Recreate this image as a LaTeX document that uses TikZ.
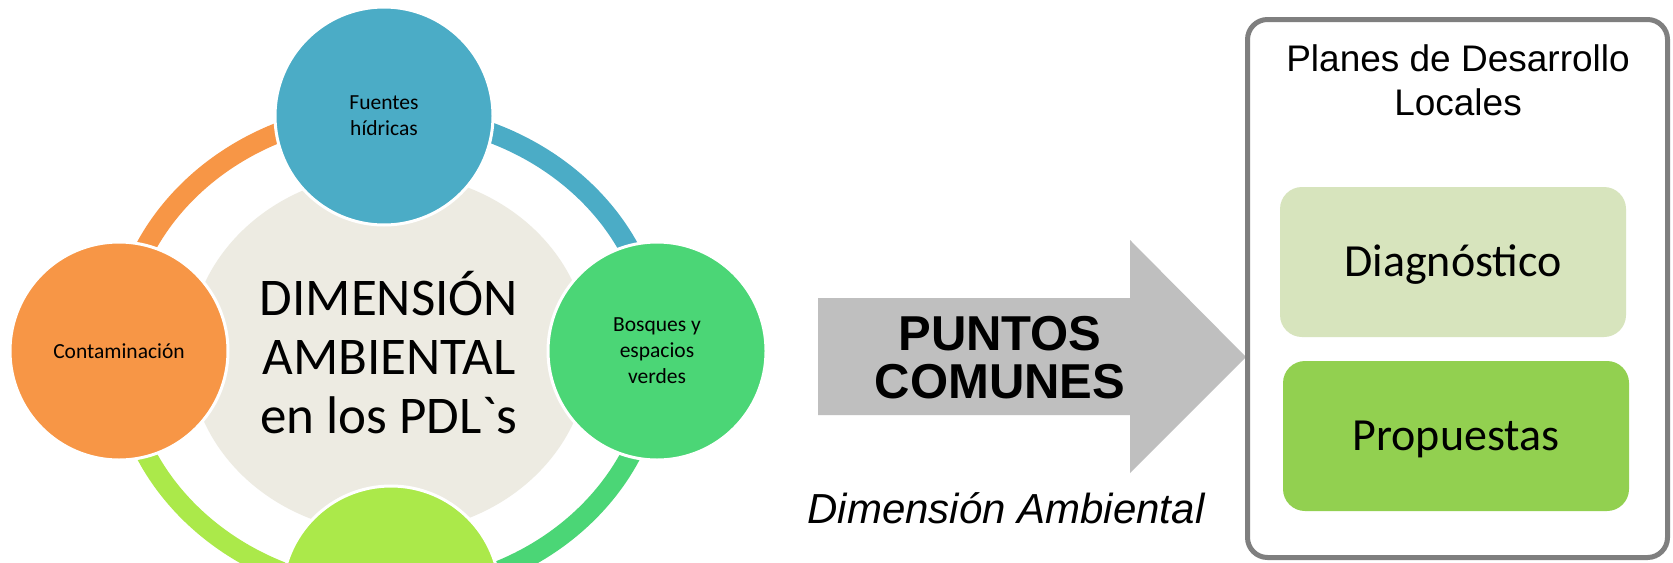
\documentclass[tikz,border=0pt]{standalone}
\usepackage{fontspec}
\newfontfamily\calibri{Carlito}
\newfontfamily\arialfont{Liberation Sans}
\usetikzlibrary{shapes.geometric}
\definecolor{cblue}{HTML}{4BACC6}
\definecolor{corange}{HTML}{F79646}
\definecolor{cgreen}{HTML}{4BD676}
\definecolor{clgreen}{HTML}{ABE94A}
\definecolor{ccenter}{HTML}{EDEBE2}
\definecolor{carrow}{HTML}{BFBFBF}
\definecolor{cborder}{HTML}{7F7F7F}
\definecolor{cdiag}{HTML}{D7E4BD}
\definecolor{cprop}{HTML}{92D050}
\begin{document}
\begin{tikzpicture}[x=0.5pt,y=-0.5pt,font=\calibri,
  bubble/.style={circle, draw=white, line width=1.5pt, minimum size=109pt, inner sep=0pt, align=center, font=\calibri\fontsize{10.75}{13}\selectfont},
  ringarc/.style={line width=10pt},
  greenbox/.style={rounded corners=11pt, minimum width=173pt, minimum height=75pt, inner sep=0pt, font=\calibri\fontsize{23}{27}\selectfont, text height=14.8pt, text depth=0pt},
]
\path[use as bounding box, clip] (0,0) rectangle (1673,562);
\fill[white] (0,0) rectangle (1673,562);

% ring positions
\coordinate (pT) at (386,114);
\coordinate (pL) at (119,351);
\coordinate (pR) at (657,351);
\coordinate (pB) at (390,592);

% ring arcs
\draw[ringarc, corange] (pL) arc[start angle=180, end angle=270, x radius=269, y radius=239];
\draw[ringarc, cblue] (pT) arc[start angle=270, end angle=360, x radius=270, y radius=238];
\draw[ringarc, cgreen] (pR) arc[start angle=0, end angle=90, x radius=268, y radius=241];
\draw[ringarc, clgreen] (pB) arc[start angle=90, end angle=180, x radius=270, y radius=241];

% center
\node[ellipse, fill=ccenter, minimum width=200pt, minimum height=180pt, inner sep=0pt, align=center,
      font=\calibri\fontsize{26.5}{29.5}\selectfont] (dim) at (389,353) {DIMENSIÓN\\AMBIENTAL\\en los PDL`s};

% bubbles
\node[bubble, fill=cblue] (fuentes) at (384,116) {Fuentes\\hídricas};
\node[bubble, fill=corange] (conta) at (pL) {Contaminación};
\node[bubble, fill=cgreen] (bosques) at (pR) {Bosques y\\espacios\\verdes};
\node[bubble, fill=clgreen] (abajo) at (391,595) {};

% arrow
\fill[carrow] (818,298) -- (1130,298) -- (1130,240) -- (1246,357) -- (1130,473) -- (1130,415) -- (818,415) -- cycle;
\node[font=\arialfont\bfseries\fontsize{24.5}{24}\selectfont, align=center] (puntos) at (1000,358) {PUNTOS\\COMUNES};
\node[anchor=base, font=\arialfont\itshape\fontsize{21}{25}\selectfont] (dimamb) at (1006,523) {Dimensión Ambiental};

% right box
\node[draw=cborder, line width=2.5pt, rounded corners=10pt, minimum width=210pt, minimum height=269pt, inner sep=0pt] (pdl) at (1457.5,288.5) {};
\node[font=\arialfont\fontsize{18.5}{22}\selectfont, align=center] (title) at (1458,80) {Planes de Desarrollo\\Locales};
\node[greenbox, fill=cdiag] (diag) at (1453,262) {Diagnóstico};
\node[greenbox, fill=cprop] (prop) at (1456,436) {Propuestas};
\end{tikzpicture}
\end{document}
